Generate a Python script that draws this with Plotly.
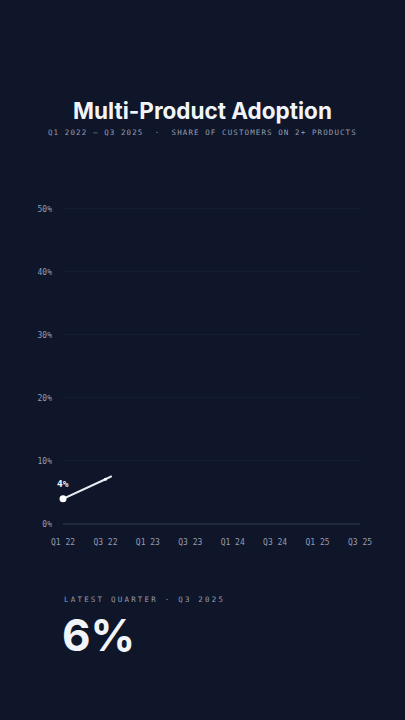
import plotly.graph_objects as go

# quarters shown on the axis (index 0 = Q1 22)
quarters = ["Q1 22", "Q2 22", "Q3 22", "Q4 22", "Q1 23", "Q2 23", "Q3 23", "Q4 23",
            "Q1 24", "Q2 24", "Q3 24", "Q4 24", "Q1 25", "Q2 25", "Q3 25"]
tickLabels = ["Q1 22", "Q3 22", "Q1 23", "Q3 23", "Q1 24", "Q3 24", "Q1 25", "Q3 25"]
yTicks = [0, 10, 20, 30, 40, 50]
yTickLabels = ["0%", "10%", "20%", "30%", "40%", "50%"]

# part of the line drawn so far (quarter index, % of customers on 2+ products)
drawnX = [0, 1, 2, 2.3]
drawnY = [4.0, 5.5, 7.1, 7.6]
firstLabel = "4%"
latestValue = "6%"

BG = "#0f1629"
TEXT = "#f1f5f9"
MUTED = "#959cb0"
MONO = "DejaVu Sans Mono"

# plot box in pixels: x 63..360, y 207..524 (range 0..50.3)
def px(x):
    return (x - 63) / 297


def py(y):
    return (524 - y) / 317


fig = go.Figure()
fig.add_trace(go.Scatter(
    x=drawnX, y=drawnY, mode="lines+markers", cliponaxis=False,
    line=dict(color="#e8ecf4", width=2),
    marker=dict(color="#ffffff", size=[7, 0, 3, 0], line=dict(width=0), opacity=1),
    hoverinfo="skip", showlegend=False,
))

fig.add_annotation(x=drawnX[0], y=drawnY[0], text="<b>" + firstLabel + "</b>", showarrow=False,
                   yshift=15, font=dict(family=MONO, size=9.5, color=TEXT))

fig.add_annotation(xref="paper", yref="paper", x=px(202.5), y=py(133), xanchor="center", yanchor="middle",
                   text='<span style="letter-spacing:1.1px">Q1 2022 — Q3 2025  ·  SHARE OF CUSTOMERS ON 2+ PRODUCTS</span>',
                   showarrow=False, font=dict(family=MONO, size=7.5, color=MUTED))
fig.add_annotation(xref="paper", yref="paper", x=px(62), y=py(599), xanchor="left", yanchor="middle",
                   text='<span style="letter-spacing:2.2px">LATEST QUARTER · Q3 2025</span>',
                   showarrow=False, font=dict(family=MONO, size=7.5, color=MUTED))
fig.add_annotation(xref="paper", yref="paper", x=px(60), y=py(635), xanchor="left", yanchor="middle",
                   text="<b>" + latestValue + "</b>",
                   showarrow=False, font=dict(family="Inter", size=44, color=TEXT))

fig.update_layout(
    width=405, height=720,
    paper_bgcolor=BG, plot_bgcolor=BG,
    margin=dict(l=63, r=45, t=207, b=196),
    title=dict(text="<b>Multi-Product Adoption</b>", x=0.5, xanchor="center",
               y=1 - 111 / 720, yanchor="middle",
               font=dict(family="Inter", size=22.5, color=TEXT)),
    xaxis=dict(range=[0, len(quarters) - 1], tickvals=list(range(0, len(quarters), 2)),
               ticktext=tickLabels, showgrid=False, zeroline=False, showline=False,
               ticks="", ticklabelstandoff=12,
               tickfont=dict(family=MONO, size=8, color=MUTED)),
    yaxis=dict(range=[0, 50.3], tickvals=yTicks, ticktext=yTickLabels,
               gridcolor="#151d31", gridwidth=1, zeroline=True, zerolinecolor="#222a3f",
               zerolinewidth=1.5, showline=False, ticks="", ticklabelstandoff=10,
               tickfont=dict(family=MONO, size=8, color=MUTED)),
)

fig.write_html("out.html", config={"displayModeBar": False},
               post_script="document.body.style.margin='0';")
